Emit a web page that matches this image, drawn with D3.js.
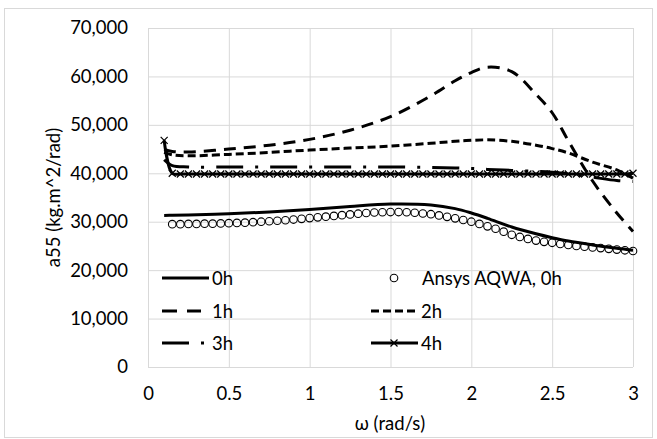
<!DOCTYPE html>
<html>
<head>
<meta charset="utf-8">
<title>a55 vs omega</title>
<style>
    html, body { margin: 0; background: #fff; }
    svg text { font-family: Lato, "Open Sans", sans-serif; fill: #000; }
</style>
</head>
<body>
<svg id="chart" width="657" height="439"></svg>
<script src="https://d3js.org/d3.v7.min.js"></script>
<script>
    "use strict";

    // frequency points (rad/s)
    const wCoarse = [0.1, 0.15, 0.25, 0.5, 0.75, 1.0, 1.25, 1.5, 1.75, 1.9, 2.0, 2.1, 2.25, 2.4, 2.5, 2.6, 2.75, 2.9, 3.0];
    const wFine = [0.10, 0.15, 0.20, 0.25, 0.30, 0.35, 0.40, 0.45, 0.50, 0.55, 0.60, 0.65, 0.70, 0.75, 0.80,
        0.85, 0.90, 0.95, 1.00, 1.05, 1.10, 1.15, 1.20, 1.25, 1.30, 1.35, 1.40, 1.45, 1.50, 1.55,
        1.60, 1.65, 1.70, 1.75, 1.80, 1.85, 1.90, 1.95, 2.00, 2.05, 2.10, 2.15, 2.20, 2.25, 2.30,
        2.35, 2.40, 2.45, 2.50, 2.55, 2.60, 2.65, 2.70, 2.75, 2.80, 2.85, 2.90, 2.95, 3.00];
    const wAnsys = wFine.slice(1);

    // a55 (kg.m^2/rad)
    const a55_0h = [31300, 31320, 31380, 31650, 32000, 32500, 33150, 33650, 33450, 32700, 31800, 30700, 28900, 27500, 26700, 26000, 25200, 24500, 24100];
    const a55_1h = [44900, 44500, 44400, 45000, 45800, 47000, 48900, 51700, 56000, 59100, 60800, 61900, 61000, 56300, 52500, 46700, 38400, 31800, 28000];
    const a55_2h = [44300, 43800, 43600, 43900, 44300, 44800, 45200, 45600, 46200, 46600, 46800, 46900, 46600, 45800, 45100, 44200, 42300, 40700, 39000];
    const a55_3h = [42800, 41600, 41300, 41300, 41300, 41300, 41300, 41300, 41200, 41100, 41000, 40800, 40600, 40400, 40200, 39900, 39200, 38500, 38300];
    const a55_4h = [46800, 40000, 39850, 39850, 39850, 39850, 39850, 39850, 39850, 39850, 39850, 39850, 39850, 39850, 39850,
        39850, 39850, 39850, 39850, 39850, 39850, 39850, 39850, 39850, 39850, 39850, 39850, 39850, 39850, 39850,
        39850, 39850, 39850, 39850, 39850, 39850, 39850, 39850, 39850, 39850, 39850, 39850, 39850, 39850, 39850,
        39850, 39850, 39850, 39850, 39850, 39850, 39850, 39850, 39850, 39850, 39850, 39850, 39850, 40000];
    const a55_ansys = [29500, 29500, 29550, 29550, 29600, 29600, 29650, 29700, 29750, 29800, 29900, 30000, 30100, 30200,
        30300, 30450, 30600, 30750, 30900, 31050, 31200, 31350, 31500, 31650, 31800, 31900, 31950, 32000, 32000,
        31950, 31850, 31700, 31550, 31300, 31000, 30700, 30350, 30000, 29550, 29050, 28550, 27950, 27300, 26850,
        26450, 26100, 25850, 25650, 25400, 25200, 25000, 24850, 24700, 24550, 24400, 24250, 24100, 23950];

    const xTicks = [0, 0.5, 1, 1.5, 2, 2.5, 3];
    const yTicks = [0, 10000, 20000, 30000, 40000, 50000, 60000, 70000];

    const svg = d3.select("#chart");
    const pLeft = 148, pRight = 633, pTop = 28, pBottom = 367;
    const x = d3.scaleLinear().domain([0, 3]).range([pLeft, pRight]);
    const y = d3.scaleLinear().domain([0, 70000]).range([pBottom, pTop]);

    // chart area border
    svg.append("rect")
        .attr("x", 4.5).attr("y", 8.5).attr("width", 648).attr("height", 429)
        .attr("fill", "#fff").attr("stroke", "#d9d9d9");

    // grid
    svg.append("g").attr("transform", `translate(0,${pBottom})`)
        .call(d3.axisBottom(x).tickValues(xTicks).tickSize(-(pBottom - pTop)).tickFormat(""))
        .call(g => g.select(".domain").remove())
        .call(g => g.selectAll("line").attr("stroke", "#d9d9d9"));
    svg.append("g").attr("transform", `translate(${pLeft},0)`)
        .call(d3.axisLeft(y).tickValues(yTicks).tickSize(-(pRight - pLeft)).tickFormat(""))
        .call(g => g.select(".domain").remove())
        .call(g => g.selectAll("line").attr("stroke", "#d9d9d9"));

    // tick labels
    svg.append("g").attr("transform", `translate(${pLeft},0)`)
        .call(d3.axisLeft(y).tickValues(yTicks).tickSize(0).tickPadding(20).tickFormat(d3.format(",")))
        .call(g => g.select(".domain").remove())
        .call(g => g.selectAll("text").attr("font-size", 18.5).attr("font-family", "Lato"));
    svg.append("g").attr("transform", `translate(0,${pBottom})`)
        .call(d3.axisBottom(x).tickValues(xTicks).tickSize(0).tickPadding(20).tickFormat(d3.format("")))
        .call(g => g.select(".domain").remove())
        .call(g => g.selectAll("text").attr("font-size", 18.5).attr("font-family", "Lato"));

    // axis titles
    svg.append("text")
        .attr("transform", `translate(60,${(pTop + pBottom) / 2}) rotate(-90)`)
        .attr("text-anchor", "middle").attr("font-size", 18.5)
        .text("a55 (kg.m^2/rad)");
    svg.append("text")
        .attr("x", 390).attr("y", 430)
        .attr("text-anchor", "middle").attr("font-size", 18.5)
        .text("ω (rad/s)");

    const line = d3.line().curve(d3.curveCatmullRom.alpha(0.5))
        .x(d => x(d[0])).y(d => y(d[1]));

    const series = [
        {name: "0h", w: wCoarse, v: a55_0h, dash: null},
        {name: "1h", w: wCoarse, v: a55_1h, dash: "12,8"},
        {name: "2h", w: wCoarse, v: a55_2h, dash: "8,4"},
        {name: "3h", w: wCoarse, v: a55_3h, dash: "27,12,3,12"},
        {name: "4h", w: wFine, v: a55_4h, dash: null, marker: "x"}
    ];

    const plot = svg.append("g");

    // 0h line
    plot.append("path")
        .datum(d3.zip(series[0].w, series[0].v))
        .attr("d", line).attr("fill", "none")
        .attr("stroke", "#000").attr("stroke-width", 3);

    // Ansys AQWA circles
    plot.append("g").selectAll("circle")
        .data(d3.zip(wAnsys, a55_ansys))
        .join("circle")
        .attr("cx", d => x(d[0])).attr("cy", d => y(d[1])).attr("r", 3.8)
        .attr("fill", "none").attr("stroke", "#000").attr("stroke-width", 1.1);

    series.slice(1).forEach(s => {
        plot.append("path")
            .datum(d3.zip(s.w, s.v))
            .attr("d", line).attr("fill", "none")
            .attr("stroke", "#000").attr("stroke-width", 3)
            .attr("stroke-dasharray", s.dash);
        if (s.marker === "x") {
            plot.append("g").selectAll("path")
                .data(d3.zip(s.w, s.v))
                .join("path")
                .attr("transform", d => `translate(${x(d[0])},${y(d[1])})`)
                .attr("d", "M-3.5,-3.5L3.5,3.5M-3.5,3.5L3.5,-3.5")
                .attr("stroke", "#000").attr("stroke-width", 1.2);
        }
    });

    // legend
    const legend = [
        {name: "0h", col: 0, row: 0, dash: null, len: 47},
        {name: "Ansys AQWA, 0h", col: 1, row: 0, circle: true},
        {name: "1h", col: 0, row: 1, dash: "15,10", len: 39},
        {name: "2h", col: 1, row: 1, dash: "8,4", len: 47},
        {name: "3h", col: 0, row: 2, dash: "27,12,3,12", len: 43},
        {name: "4h", col: 1, row: 2, dash: null, marker: "x", len: 47}
    ];
    const colX = [162, 371], rowY = [278, 311, 343];
    const lg = svg.append("g");
    legend.forEach(l => {
        const x0 = colX[l.col], yy = rowY[l.row];
        if (l.circle) {
            lg.append("circle").attr("cx", x0 + 23).attr("cy", yy).attr("r", 3.8)
                .attr("fill", "none").attr("stroke", "#000").attr("stroke-width", 1.1);
        } else {
            lg.append("line").attr("x1", x0).attr("x2", x0 + l.len).attr("y1", yy).attr("y2", yy)
                .attr("stroke", "#000").attr("stroke-width", 3)
                .attr("stroke-dasharray", l.dash);
        }
        if (l.marker === "x") {
            lg.append("path").attr("transform", `translate(${x0 + 23},${yy})`)
                .attr("d", "M-3.5,-3.5L3.5,3.5M-3.5,3.5L3.5,-3.5")
                .attr("stroke", "#000").attr("stroke-width", 1.2);
        }
        lg.append("text")
            .attr("x", l.circle ? x0 + 51 : x0 + 50).attr("y", yy + 7)
            .attr("font-size", 18.5).text(l.name);
    });
</script>
</body>
</html>
